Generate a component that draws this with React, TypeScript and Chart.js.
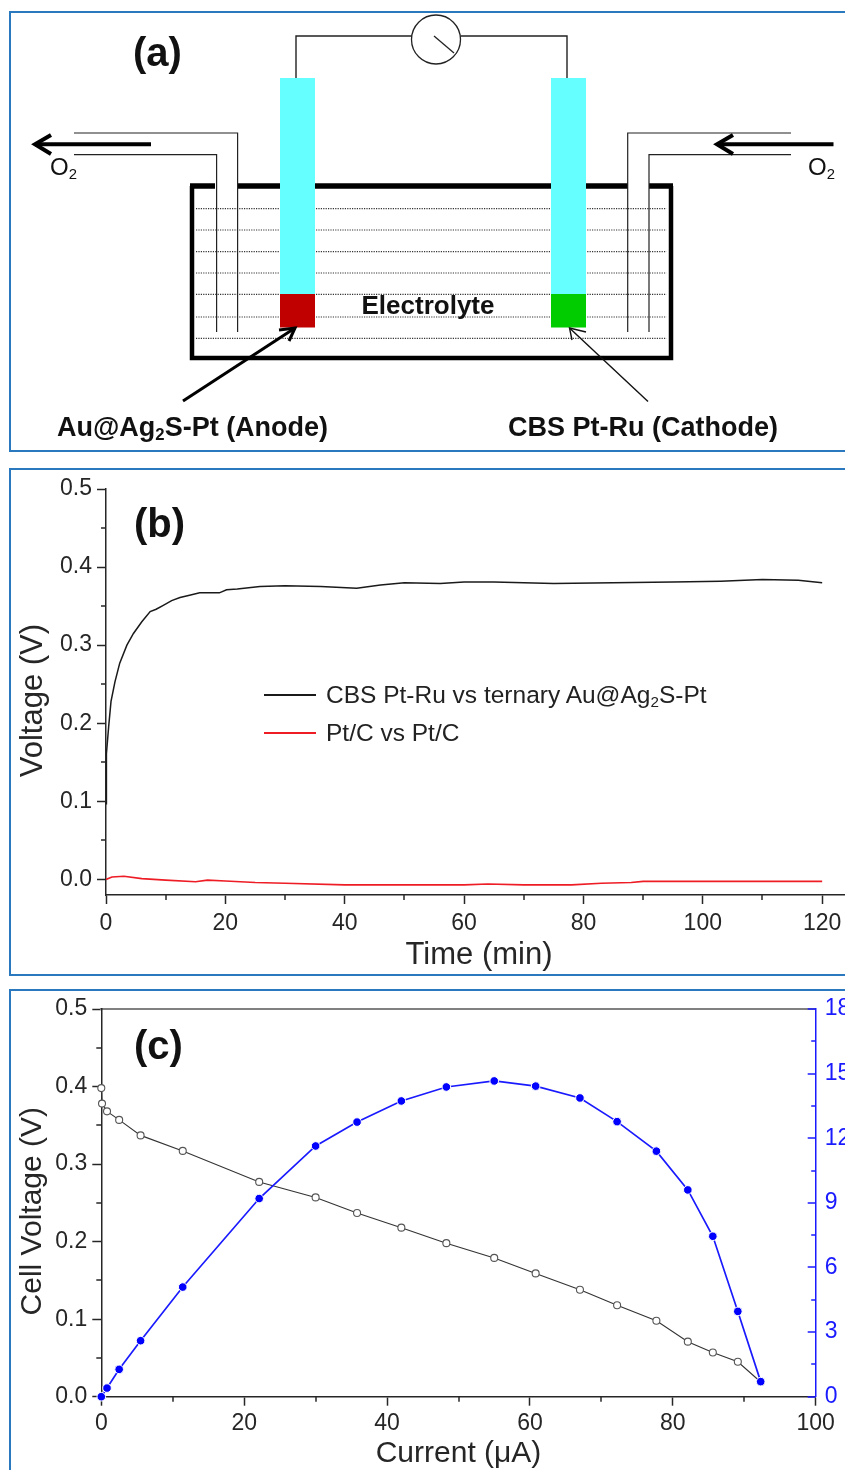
import React, { useEffect, useRef } from "react";
import Chart from "chart.js/auto";

const FONT = '"Liberation Sans", Arial, sans-serif';
const INK = "#262626";
const BLUE = "#1a1aff";

// ---------- panel (b) ----------
const timeMinutes = [0, 0.03, 0.11, 0.45, 0.84, 1.5, 2.3, 3.5, 4.6, 6, 7.4, 8.4, 9.6, 11, 12.4, 14, 15.7, 17, 19, 20.2, 22, 25.8, 30, 36, 42, 46, 50, 56, 60, 65, 70, 75, 85, 95, 103, 110, 116, 120];
const cbsVoltage = [0.097, 0.13, 0.161, 0.196, 0.228, 0.253, 0.277, 0.3, 0.315, 0.33, 0.343, 0.346, 0.351, 0.357, 0.361, 0.364, 0.367, 0.367, 0.367, 0.371, 0.372, 0.375, 0.376, 0.375, 0.373, 0.377, 0.38, 0.379, 0.381, 0.381, 0.38, 0.379, 0.38, 0.381, 0.382, 0.384, 0.383, 0.38];
const ptcTime = [0, 1, 3, 6, 10, 15, 17, 20, 25, 30, 40, 50, 60, 64, 70, 78, 83, 88, 90, 120];
const ptcVoltage = [0, 0.003, 0.004, 0.001, -0.001, -0.003, -0.001, -0.002, -0.004, -0.005, -0.007, -0.007, -0.007, -0.006, -0.007, -0.007, -0.005, -0.004, -0.0025, -0.0025];

// ---------- panel (c) ----------
const currentUA = [0, 0.1, 0.8, 2.5, 5.5, 11.4, 22.1, 30, 35.8, 42, 48.3, 55, 60.8, 67, 72.2, 77.7, 82.1, 85.6, 89.1, 92.3];
const cellVoltage = [0.398, 0.378, 0.368, 0.357, 0.337, 0.317, 0.277, 0.257, 0.237, 0.218, 0.198, 0.179, 0.159, 0.138, 0.118, 0.098, 0.071, 0.057, 0.045, 0.019];
const powerCurrent = [0, 0.8, 2.5, 5.5, 11.4, 22.1, 30, 35.8, 42, 48.3, 55, 60.8, 67, 72.2, 77.7, 82.1, 85.6, 89.1, 92.3];
const powerValues = [0, 0.4, 1.27, 2.6, 5.09, 9.2, 11.64, 12.75, 13.73, 14.38, 14.66, 14.42, 13.87, 12.77, 11.4, 9.6, 7.45, 3.96, 0.7];

// ---------- panel (a), schematic, in a 845 x 460 plane ----------
type P = [number, number];
const wireLeft: P[] = [[296, 78], [296, 36], [412, 36]];
const wireRight: P[] = [[461, 36], [567, 36], [567, 78]];
const meterCentre: P[] = [[436, 39.5]];
const needle: P[] = [[434, 36], [454, 53]];
const electrodeLeft: P[] = [[297.5, 78], [297.5, 294]];
const electrodeRight: P[] = [[568.5, 78], [568.5, 294]];
const catalystLeft: P[] = [[297.5, 294], [297.5, 327.5]];
const catalystRight: P[] = [[568.5, 294], [568.5, 327.5]];
const vesselSides: P[] = [[192, 186], [192, 358], [671, 358], [671, 186]];
const vesselTopParts: P[][] = [[[190, 186], [215, 186]], [[238, 186], [280, 186]], [[315, 186], [551, 186]], [[586, 186], [628, 186]], [[649, 186], [673, 186]]];
const levelHeights = [208.7, 230, 251.7, 273, 294.3, 317, 338.3];
const tubeLeftOuter: P[] = [[74, 133], [237.6, 133], [237.6, 332]];
const tubeLeftInner: P[] = [[74, 154.7], [216.6, 154.7], [216.6, 332]];
const tubeRightOuter: P[] = [[791, 133], [627.7, 133], [627.7, 332]];
const tubeRightInner: P[] = [[791, 154.7], [649, 154.7], [649, 332]];
const flowLeft: P[] = [[151, 144.3], [35, 144.3]];
const flowLeftHead: P[] = [[51, 135], [35, 144.3], [51, 154]];
const flowRight: P[] = [[833.5, 144.3], [717, 144.3]];
const flowRightHead: P[] = [[733, 135], [717, 144.3], [733, 154]];
const anodePointer: P[] = [[183, 401], [295, 328]];
const anodePointerHead: P[] = [[279, 330], [295, 328], [289, 341]];
const cathodePointer: P[] = [[648, 401.5], [569.5, 328]];
const cathodePointerHead: P[] = [[586, 332], [569.5, 328], [572, 340]];

const xy = (xs: number[], ys: number[]) => xs.map((x, i) => ({ x, y: ys[i] }));
const pts = (list: P[]) => list.map(([x, y]) => ({ x, y }));
const isMajor = (v: number, step: number) => Math.abs(v / step - Math.round(v / step)) < 1e-6;

function stroke(list: P[], color: string, width: number, extra: object = {}) {
  return { data: pts(list), showLine: true, borderColor: color, borderWidth: width, pointRadius: 0, tension: 0, borderCapStyle: "butt", borderJoinStyle: "miter", clip: false, ...extra };
}

function schematicDatasets() {
  const below = [
    ...levelHeights.map((h) => stroke([[196, h], [666.5, h]], "#333333", 1.2, { borderDash: [1.2, 1.2] })),
    stroke(vesselSides, "#000000", 4.5),
    ...vesselTopParts.map((s) => stroke(s, "#000000", 5.5)),
    stroke(electrodeLeft, "#66ffff", 35),
    stroke(electrodeRight, "#66ffff", 35),
    stroke(catalystLeft, "#c00000", 35),
    stroke(catalystRight, "#00cc00", 35),
    stroke(wireLeft, "#222222", 1.4),
    stroke(wireRight, "#222222", 1.4),
    stroke(tubeLeftOuter, "#222222", 1.2),
    stroke(tubeLeftInner, "#222222", 1.2),
    stroke(tubeRightOuter, "#222222", 1.2),
    stroke(tubeRightInner, "#222222", 1.2),
    { data: pts(meterCentre), showLine: false, pointRadius: 24.5, pointBackgroundColor: "#ffffff", pointBorderColor: "#222222", pointBorderWidth: 1.3, clip: false },
    stroke(needle, "#222222", 1.3),
    stroke(flowLeft, "#000000", 4),
    stroke(flowLeftHead, "#000000", 4),
    stroke(flowRight, "#000000", 4),
    stroke(flowRightHead, "#000000", 4),
    stroke(anodePointer, "#000000", 3),
    stroke(anodePointerHead, "#000000", 3),
    stroke(cathodePointer, "#111111", 1.4),
    stroke(cathodePointerHead, "#111111", 1.4),
  ];
  return below.reverse();
}

type TickRule = { id: string; major: number; color: string; inwardAll?: boolean };
function tickPlugin(rules: TickRule[]) {
  return {
    id: "axisTicks",
    afterDraw(chart: any) {
      const { ctx } = chart;
      ctx.save();
      ctx.lineWidth = 1.5;
      rules.forEach((r) => {
        const s = chart.scales[r.id];
        ctx.strokeStyle = r.color;
        s.ticks.forEach((t: any) => {
          const major = isMajor(t.value, r.major);
          if (major && !r.inwardAll) return;
          const p = Math.round(s.getPixelForValue(t.value));
          ctx.beginPath();
          if (r.inwardAll) {
            ctx.moveTo(s.left, p);
            ctx.lineTo(s.left - (major ? 8 : 4.5), p);
          } else if (s.isHorizontal()) {
            ctx.moveTo(p, s.top);
            ctx.lineTo(p, s.top + 5);
          } else {
            ctx.moveTo(s.right, p);
            ctx.lineTo(s.right - 5, p);
          }
          ctx.stroke();
        });
      });
      ctx.restore();
    },
  };
}

function axis(opts: any) {
  const { min, max, major, minor, digits, position, fixed, title, titlePad, titleSize = 30, labelPad, color = INK, inward } = opts;
  const horizontal = position === "bottom";
  return {
    type: "linear",
    position,
    min,
    max,
    afterFit: (s: any) => {
      if (horizontal) s.height = fixed;
      else s.width = fixed;
    },
    border: { display: true, color, width: 1.5 },
    grid: {
      drawOnChartArea: false,
      drawTicks: !inward,
      tickLength: 9,
      tickWidth: 1.5,
      tickColor: (c: any) => (c.tick && isMajor(c.tick.value, major) ? color : "transparent"),
    },
    ticks: {
      stepSize: minor,
      autoSkip: false,
      includeBounds: false,
      maxRotation: 0,
      minRotation: 0,
      padding: labelPad,
      color,
      font: { family: FONT, size: 23 },
      callback: (v: number) => (isMajor(v, major) ? v.toFixed(digits) : ""),
    },
    title: title
      ? { display: true, text: title, color: INK, padding: titlePad, font: { family: FONT, size: titleSize } }
      : { display: false },
  };
}

const base = { responsive: false, animation: false, events: [] as string[], plugins: { legend: { display: false }, tooltip: { enabled: false } } };

const configA = () => ({
  type: "scatter",
  data: { datasets: schematicDatasets() },
  options: {
    ...base,
    layout: { padding: 0, autoPadding: false },
    scales: {
      x: { type: "linear", display: false, min: 0, max: 845 },
      y: { type: "linear", display: false, min: 0, max: 460, reverse: true },
    },
  },
});

const configB = () => ({
  type: "scatter",
  data: {
    datasets: [
      { label: "Pt/C vs Pt/C", data: xy(ptcTime, ptcVoltage), showLine: true, borderColor: "#ee1c25", borderWidth: 1.6, pointRadius: 0, tension: 0 },
      { label: "CBS Pt-Ru vs ternary Au@Ag2S-Pt", data: xy(timeMinutes, cbsVoltage), showLine: true, borderColor: "#1a1a1a", borderWidth: 1.5, pointRadius: 0, tension: 0 },
    ],
  },
  options: {
    ...base,
    layout: { padding: { top: 29, right: 8, left: 0, bottom: 0 } },
    scales: {
      x: axis({ min: 0, max: 125, major: 20, minor: 10, digits: 0, position: "bottom", fixed: 85, title: "Time (min)", titleSize: 31, titlePad: { bottom: 6 }, labelPad: 6 }),
      y: axis({ min: -0.02, max: 0.5, major: 0.1, minor: 0.05, digits: 1, position: "left", fixed: 106, title: "Voltage (V)  ", titleSize: 31, titlePad: { top: 15 }, labelPad: 5 }),
    },
  },
  plugins: [tickPlugin([{ id: "x", major: 20, color: INK }, { id: "y", major: 0.1, color: INK }])],
});

const configC = () => ({
  type: "scatter",
  data: {
    datasets: [
      { label: "Power", yAxisID: "yPower", data: xy(powerCurrent, powerValues), showLine: true, borderColor: BLUE, borderWidth: 1.7, tension: 0, pointRadius: 4.3, pointBackgroundColor: "#0000ff", pointBorderColor: "#ffffff", pointBorderWidth: 1, clip: false },
      { label: "Cell voltage", yAxisID: "y", data: xy(currentUA, cellVoltage), showLine: true, borderColor: "#333333", borderWidth: 1.1, tension: 0, pointRadius: 3.5, pointBackgroundColor: "#ffffff", pointBorderColor: "#555555", pointBorderWidth: 1.1, clip: false },
    ],
  },
  options: {
    ...base,
    layout: { padding: { top: 29, right: 0, left: 0, bottom: 0 } },
    scales: {
      x: axis({ min: 0, max: 100, major: 20, minor: 10, digits: 0, position: "bottom", fixed: 78.3, title: "Current (\u03bcA)", titlePad: { bottom: 3 }, labelPad: 4 }),
      xTop: { type: "linear", position: "top", min: 0, max: 100, afterFit: (s: any) => { s.height = 0; }, border: { display: true, color: "#808080", width: 2 }, grid: { drawOnChartArea: false, drawTicks: false }, ticks: { display: false } },
      y: axis({ min: 0, max: 0.5, major: 0.1, minor: 0.05, digits: 1, position: "left", fixed: 101.3, title: "Cell Voltage (V)  ", titlePad: { top: 15 }, labelPad: 5 }),
      yPower: axis({ min: 0, max: 18, major: 3, minor: 1.5, digits: 0, position: "right", fixed: 44.3, labelPad: 9, color: BLUE, inward: true }),
    },
  },
  plugins: [tickPlugin([{ id: "x", major: 20, color: INK }, { id: "y", major: 0.1, color: INK }, { id: "yPower", major: 3, color: BLUE, inwardAll: true }])],
});

function Plot({ make, top, width, height }: { make: () => any; top: number; width: number; height: number }) {
  const ref = useRef<HTMLCanvasElement | null>(null);
  useEffect(() => {
    const chart = new Chart(ref.current as HTMLCanvasElement, make());
    return () => chart.destroy();
  }, [make]);
  return <canvas ref={ref} width={width} height={height} style={{ position: "absolute", left: 0, top, width, height, display: "block" }} />;
}

function Frame({ top, height }: { top: number; height: number }) {
  return <div style={{ position: "absolute", left: 9, top, width: 900, height, boxSizing: "border-box", border: "2px solid #2a78bd" }} />;
}

function Note({ x, y, size, bold, center, color, children }: any) {
  return (
    <div style={{ position: "absolute", left: x, top: y - size / 2, lineHeight: `${size}px`, fontSize: size, fontFamily: FONT, fontWeight: bold ? 700 : 400, color: color || "#111", whiteSpace: "nowrap", transform: center ? "translateX(-50%)" : undefined }}>
      {children}
    </div>
  );
}

const Sub = ({ children }: any) => <span style={{ fontSize: "0.62em", position: "relative", top: "0.28em", lineHeight: 0 }}>{children}</span>;

export default function App() {
  return (
    <div style={{ position: "absolute", left: 0, top: 0, width: 845, height: 1470, overflow: "hidden", background: "#fff" }}>
      <Frame top={11} height={441} />
      <Frame top={468} height={508} />
      <Frame top={989} height={600} />
      <Plot make={configA} top={0} width={845} height={460} />
      <Plot make={configB} top={460} width={860} height={520} />
      <Plot make={configC} top={980} width={860} height={495} />

      <Note x={133} y={52} size={40} bold>(a)</Note>
      <Note x={134} y={523} size={40} bold>(b)</Note>
      <Note x={134} y={1045} size={40} bold>(c)</Note>

      <Note x={50} y={167} size={24}>O<Sub>2</Sub></Note>
      <Note x={808} y={167} size={24}>O<Sub>2</Sub></Note>
      <Note x={428} y={305} size={26} bold center>Electrolyte</Note>
      <Note x={57} y={427} size={27} bold>Au@Ag<Sub>2</Sub>S-Pt (Anode)</Note>
      <Note x={508} y={427} size={27} bold>CBS Pt-Ru (Cathode)</Note>

      <div style={{ position: "absolute", left: 264, top: 694, width: 52, height: 2, background: "#1a1a1a" }} />
      <div style={{ position: "absolute", left: 264, top: 732, width: 52, height: 2, background: "#ee1c25" }} />
      <Note x={326} y={695} size={24.5} color="#222">CBS Pt-Ru vs ternary Au@Ag<Sub>2</Sub>S-Pt</Note>
      <Note x={326} y={733} size={24.5} color="#222">Pt/C vs Pt/C</Note>
    </div>
  );
}
